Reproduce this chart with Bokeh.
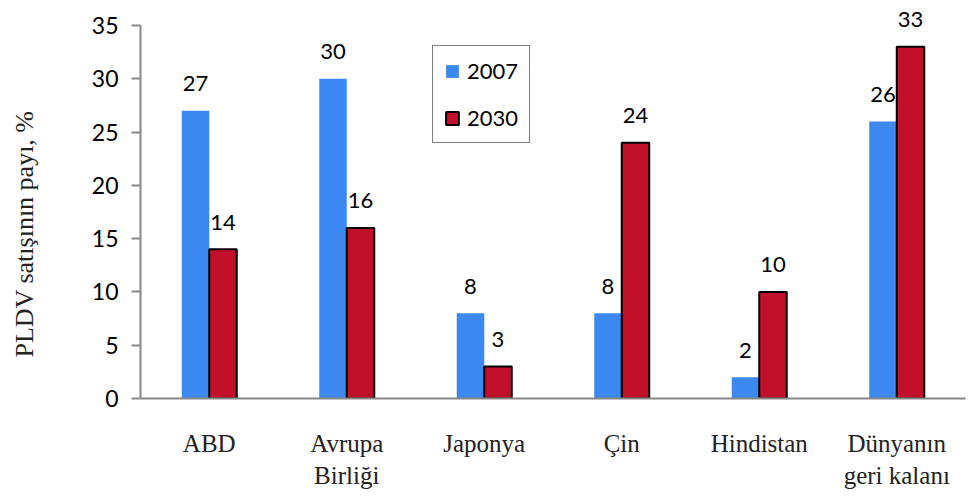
from bokeh.plotting import figure
from bokeh.models import (ColumnDataSource, FactorRange, Range1d, FixedTicker,
                          Legend, LegendItem)
from bokeh.transform import dodge
from bokeh.core.properties import value
from bokeh.embed import file_html
from bokeh.resources import INLINE

# PLDV sales share by region, %
regions = ["ABD", "Avrupa\nBirliği", "Japonya", "Çin", "Hindistan", "Dünyanın\ngeri kalanı"]
share_2007 = [27, 30, 8, 8, 2, 26]
share_2030 = [14, 16, 3, 24, 10, 33]
y_ticks = [0, 5, 10, 15, 20, 25, 30, 35]
series_names = ["2007", "2030"]
y_title = "PLDV satışının payı, %"

BLUE = "#3a88f0"
RED = "#c3102a"
AXIS = "#888888"
SANS = "Lato"
SERIF = "Liberation Serif"

src = ColumnDataSource(dict(
    region=regions,
    s2007=share_2007,
    s2030=share_2030,
    t2007=[str(v) for v in share_2007],
    t2030=[str(v) for v in share_2030],
))

p = figure(
    width=978, height=500,
    x_range=FactorRange(factors=regions),
    y_range=Range1d(0, 36.97),
    output_backend="svg", toolbar_location=None,
    min_border_left=140, min_border_right=13,
    min_border_top=4, min_border_bottom=102,
)
p.outline_line_color = None
p.grid.grid_line_color = None
p.background_fill_color = "white"

r07 = p.vbar(x=dodge("region", -0.1, range=p.x_range), top="s2007", width=0.2,
             source=src, fill_color=BLUE, line_color=None)
r30 = p.vbar(x=dodge("region", 0.1, range=p.x_range), top="s2030", width=0.2,
             source=src, fill_color=RED, line_color="black", line_width=2)

# value labels over each bar
for col, top, off in (("t2007", "s2007", -0.1), ("t2030", "s2030", 0.1)):
    p.text(x=dodge("region", off, range=p.x_range), y=top, text=col, source=src,
           text_align="center", text_baseline="alphabetic", y_offset=-27,
           text_font=value(SANS), text_font_size="22px", text_color="black")

# y axis; the title is padded with no-break spaces so it sits lower
ya = p.yaxis[0]
ya.bounds = (0, 35)
ya.ticker = FixedTicker(ticks=y_ticks)
ya.axis_line_color = AXIS
ya.axis_line_width = 2
ya.major_tick_line_color = AXIS
ya.major_tick_line_width = 2
ya.major_tick_in = 0
ya.major_tick_out = 9
ya.minor_tick_line_color = None
ya.major_label_standoff = 13
ya.major_label_text_font = SANS
ya.major_label_text_font_size = "23px"
ya.major_label_text_color = "black"
ya.axis_label = y_title + "\u00a0" * 10
ya.axis_label_standoff = 50
ya.axis_label_text_font = SERIF
ya.axis_label_text_font_size = "26px"
ya.axis_label_text_font_style = "normal"
ya.axis_label_text_color = "#222222"

# x axis
xa = p.xaxis[0]
xa.axis_line_color = AXIS
xa.axis_line_width = 2
xa.major_tick_line_color = None
xa.major_tick_in = 0
xa.major_tick_out = 0
xa.major_label_standoff = 31
xa.major_label_text_font = SERIF
xa.major_label_text_font_size = "25px"
xa.major_label_text_color = "#222222"

legend = Legend(items=[LegendItem(label=series_names[0], renderers=[r07]),
                       LegendItem(label=series_names[1], renderers=[r30])],
                location=(292, 255), orientation="vertical")
legend.glyph_width = 16
legend.glyph_height = 16
legend.label_height = 20
legend.label_standoff = 7
legend.padding = 11
legend.spacing = 20
legend.margin = 0
legend.border_line_color = "black"
legend.border_line_width = 1.5
legend.background_fill_color = "white"
legend.background_fill_alpha = 1
legend.label_text_font = SANS
legend.label_text_font_size = "22px"
legend.label_text_color = "black"
p.add_layout(legend)

open("out.html", "w").write(file_html(p, INLINE))
